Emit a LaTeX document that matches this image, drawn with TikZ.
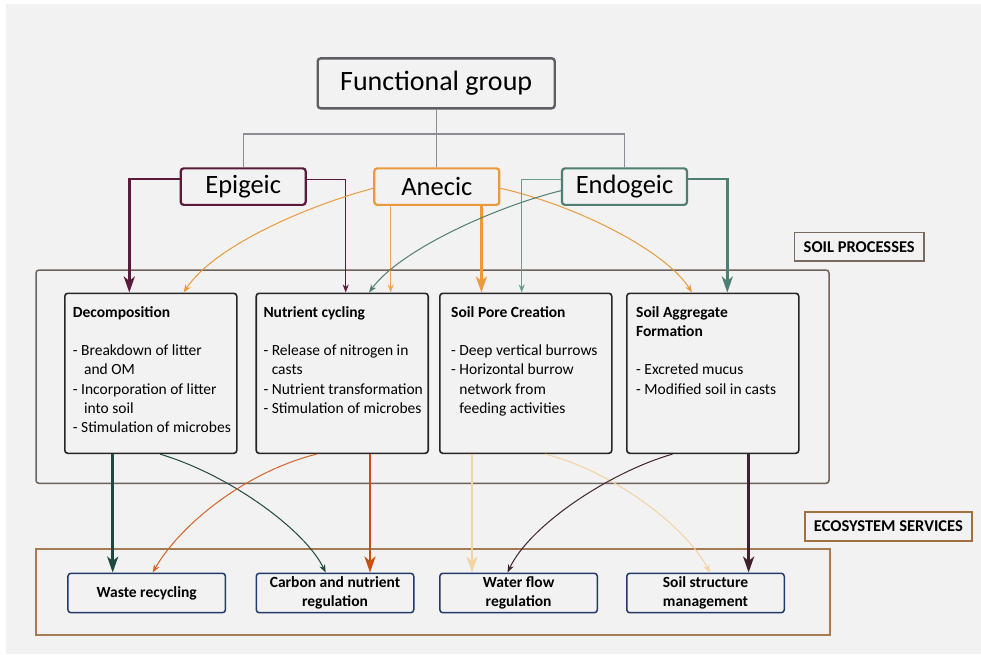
\documentclass[tikz,border=0pt]{standalone}
\usepackage{fontspec}
\setmainfont{Carlito}
\usetikzlibrary{arrows.meta}
\definecolor{bgc}{HTML}{F2F2F2}
\definecolor{fgc}{HTML}{5E5E64}
\definecolor{treec}{HTML}{8C8C94}
\definecolor{epic}{HTML}{5B1A3A}
\definecolor{anec}{HTML}{EA9A3C}
\definecolor{endc}{HTML}{4F7E72}
\definecolor{endl}{HTML}{6F9A8E}
\definecolor{procc}{HTML}{262626}
\definecolor{spcc}{HTML}{6E625A}
\definecolor{escc}{HTML}{A57C52}
\definecolor{esl}{HTML}{A0703F}
\definecolor{spl}{HTML}{7A6A63}
\definecolor{servc}{HTML}{22396B}
\definecolor{decc}{HTML}{1F4840}
\definecolor{nutc}{HTML}{C8500E}
\definecolor{nutl}{HTML}{D4642A}
\definecolor{spc}{HTML}{F2D3A2}
\definecolor{aggc}{HTML}{3E2230}
\newcommand\ind{\phantom{- }}
\begin{document}
\begin{tikzpicture}[x=1pt,y=-1pt,
  box/.style={draw, rounded corners=3pt, inner sep=0pt, fill=bgc},
  fgbox/.style={box, draw=fgc, line width=2.4pt, minimum width=237pt, minimum height=50pt, font=\fontsize{28}{32}\selectfont},
  grpbox/.style={box, line width=2.2pt, minimum width=125pt, minimum height=36.5pt, font=\fontsize{26.5}{30}\selectfont},
  procbox/.style={box, draw=procc, line width=1.6pt, minimum width=172pt, minimum height=160pt},
  servbox/.style={box, draw=servc, line width=1.5pt, minimum width=157.5pt, minimum height=39.4pt, align=center, font=\bfseries\fontsize{15.5}{19}\selectfont},
  ptext/.style={anchor=north west, inner sep=0pt, align=left, font=\fontsize{15.5}{19.2}\selectfont},
  lbl/.style={draw, inner sep=0pt, font=\bfseries\fontsize{16.5}{19}\selectfont},
  tree/.style={draw=treec, line width=1.2pt},
  thickarr/.style={line width=2.6pt, -{Stealth[length=16pt,width=11pt,inset=4.5pt]}},
  thinarr/.style={line width=1pt, -{Stealth[length=8pt,width=6pt,inset=2.5pt]}}
]
\useasboundingbox (0,0) rectangle (981,654);
\fill[bgc] (6,4) rectangle (981,654);

% containers
\node[draw=spcc, line width=1.5pt, rounded corners=3pt, minimum width=793pt, minimum height=213.3pt, inner sep=0pt] (spcont) at (432.5,376.7) {};
\node[draw=escc, line width=2pt, minimum width=794pt, minimum height=86pt, inner sep=0pt] (escont) at (433,592) {};
\node[lbl, draw=spl, line width=1.2pt, minimum width=129.7pt, minimum height=28.7pt] (splbl) at (859.2,246.7) {SOIL PROCESSES};
\node[lbl, draw=esl, line width=2pt, minimum width=166.8pt, minimum height=29pt] (eslbl) at (888.4,526.2) {ECOSYSTEM SERVICES};

% top
\node[fgbox] (fg) at (436.2,83.3) {Functional group};
\node[grpbox, draw=epic] (epi) at (243.2,186.6) {Epigeic};
\node[grpbox, draw=anec] (ane) at (436.8,186.6) {Anecic};
\node[grpbox, draw=endc] (endo) at (624.5,186.6) {Endogeic};

\coordinate (bus) at (436.2,134);
\draw[tree] (fg.south) -- (fg.south |- bus);
\draw[tree] (epi.north) |- (endo.north |- bus) -- (endo.north);
\draw[tree] (ane.north) -- (ane.north |- bus);

% process boxes
\node[procbox] (dec) at (150.8,373.3) {};
\node[procbox] (nut) at (342.2,373.3) {};
\node[procbox] (sp) at (525.8,373.3) {};
\node[procbox] (agg) at (712.8,373.3) {};

\node[ptext] (dect) at (72.7,303.7) {\strut\textbf{Decomposition}\\[19.2pt]
- Breakdown of litter\\
\ind\hspace{3pt}and OM\\
- Incorporation of litter\\
\ind\hspace{3pt}into soil\\
- Stimulation of microbes};
\node[ptext] (nutt) at (263.3,303.7) {\strut\textbf{Nutrient cycling}\\[19.2pt]
- Release of nitrogen in\\
\ind casts\\
- Nutrient transformation\\
- Stimulation of microbes};
\node[ptext] (spt) at (451,303.7) {\strut\textbf{Soil Pore Creation}\\[19.2pt]
- Deep vertical burrows\\
- Horizontal burrow\\
\ind network from\\
\ind feeding activities};
\node[ptext] (aggt) at (636,303.7) {\strut\textbf{Soil Aggregate}\\
\textbf{Formation}\\[19.2pt]
- Excreted mucus\\
- Modified soil in casts};

% service boxes
\node[servbox] (was) at (146.7,593) {Waste recycling};
\node[servbox] (car) at (335,593) {Carbon and nutrient\\regulation};
\node[servbox] (wat) at (518.6,593) {Water flow\\regulation};
\node[servbox] (str) at (705.5,593) {Soil structure\\management};

% group -> processes
\draw[thickarr, draw=epic] ([yshift=7.6pt]epi.west) -| ([xshift=-21.5pt]dec.north);
\draw[thinarr, draw=epic] ([yshift=7.6pt]epi.east) -| ([xshift=3.5pt]nut.north);
\draw[thinarr, draw=anec] ([yshift=-1.7pt]ane.west) .. controls (310,205) and (215,245) .. ([xshift=32.8pt]dec.north);
\draw[thinarr, draw=anec!85!white] ([xshift=-46.1pt]ane.south) -- ([xshift=-46.1pt]ane.south |- nut.north);
\draw[thickarr, draw=anec] ([xshift=44.6pt]ane.south) -- ([xshift=44.6pt]ane.south |- sp.north);
\draw[thinarr, draw=anec] ([yshift=-1.7pt]ane.east) .. controls (575,205) and (665,250) .. ([xshift=-20.8pt]agg.north);
\draw[thinarr, draw=endl] ([yshift=7.6pt]endo.west) -| ([xshift=-4.1pt]sp.north);
\draw[thinarr, draw=endc] ([yshift=-4.1pt]endo.west) .. controls (495,207) and (400,250) .. ([xshift=26.8pt]nut.north);
\draw[thickarr, draw=endc] ([yshift=7.6pt]endo.east) -| ([xshift=14.5pt]agg.north);

% processes -> services
\draw[thickarr, draw=decc] ([xshift=-38.1pt]dec.south) -- ([xshift=-38.1pt]dec.south |- was.north);
\draw[thinarr, draw=decc] ([xshift=9.2pt]dec.south) .. controls (230,475) and (305,530) .. ([xshift=-9.3pt]car.north);
\draw[thinarr, draw=nutl] ([xshift=-25.5pt]nut.south) .. controls (245,472) and (180,525) .. ([xshift=6pt]was.north);
\draw[thickarr, draw=nutc] ([xshift=27.8pt]nut.south) -- ([xshift=27.8pt]nut.south |- car.north);
\draw[thickarr, draw=spc] ([xshift=-53.8pt]sp.south) -- ([xshift=-53.8pt]sp.south |- wat.north);
\draw[thinarr, draw=spc] ([xshift=19.2pt]sp.south) .. controls (610,470) and (685,525) .. ([xshift=4.5pt]str.north);
\draw[thinarr, draw=aggc] ([xshift=-40.3pt]agg.south) .. controls (610,472) and (530,525) .. ([xshift=-11.1pt]wat.north);
\draw[thickarr, draw=aggc] ([xshift=35.8pt]agg.south) -- ([xshift=35.8pt]agg.south |- str.north);
\end{tikzpicture}
\end{document}
